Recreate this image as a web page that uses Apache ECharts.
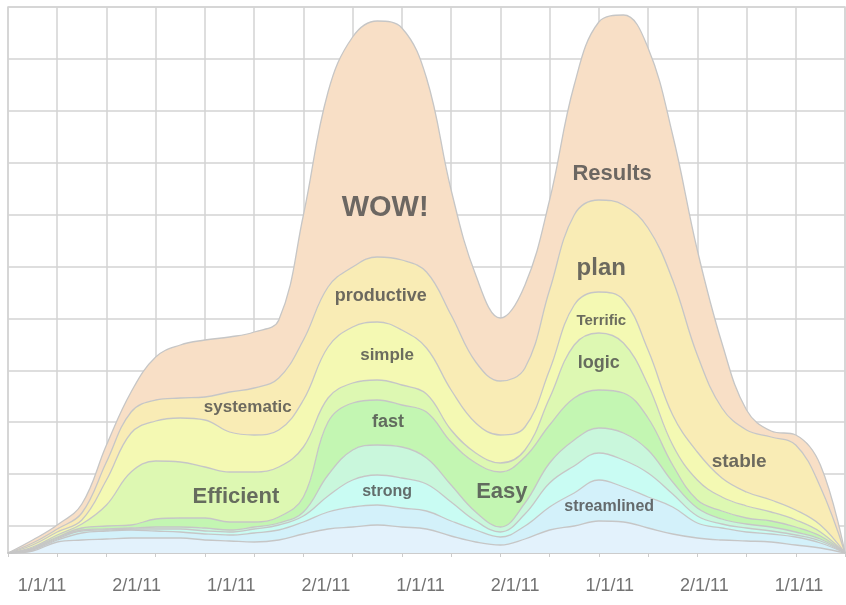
<!DOCTYPE html>
<html>
<head>
<meta charset="utf-8">
<script src="https://cdn.jsdelivr.net/npm/echarts@6/dist/echarts.min.js"></script>
<style>
  html, body { margin: 0; padding: 0; background: #ffffff; }
  #chart { width: 846px; height: 605px; }
</style>
</head>
<body>
<div id="chart"></div>
<script>
// sample positions along the x axis (grid columns)
var xs = ['0', '0.5', '1', '1.5', '2', '2.5', '3', '3.5', '4', '4.5', '5', '5.5', '6', '6.5', '7', '7.5', '8', '8.5',
  '9', '9.5', '10', '10.5', '11', '11.5', '12', '12.5', '13', '13.5', '14', '14.5', '15', '15.5', '16', '16.5', '17'];

// layer thickness, bottom layer first
var layer1 = [0, 2, 11, 13, 14, 15, 15, 15, 13, 12, 11, 13, 19, 24, 26, 28, 26, 24, 17, 11, 8, 14, 23, 27, 32, 31, 25, 19, 15, 13, 12, 11, 8, 5, 0];
var layer2 = [0, 1, 2, 7, 8, 8, 7, 6, 6, 6, 9, 10, 12, 17, 20, 20, 19, 18, 15, 12, 8, 13, 23, 33, 41, 35, 31, 27, 15, 12, 9, 8, 8, 5, 0];
var layer3 = [0, 1, 1, 2, 1, 1, 2, 3, 3, 3, 4, 5, 6, 16, 27, 30, 30, 27, 19, 9, 5, 12, 24, 27, 27, 27, 24, 13, 7, 4, 4, 3, 2, 2, 0];
var layer4 = [0, 0, 1, 1, 1, 1, 2, 2, 3, 2, 2, 2, 4, 21, 30, 30, 31, 26, 17, 9, 5, 11, 20, 26, 25, 27, 23, 12, 8, 5, 4, 4, 3, 2, 0];
var layer5 = [0, 1, 1, 2, 3, 3, 8, 9, 10, 8, 5, 6, 15, 53, 47, 45, 42, 46, 43, 49, 55, 46, 38, 42, 38, 40, 32, 17, 8, 8, 6, 6, 5, 3, 0];
var layer6 = [0, 1, 2, 4, 21, 53, 58, 56, 51, 50, 50, 50, 50, 24, 20, 20, 20, 18, 12, 10, 9, 7, 27, 53, 57, 50, 33, 20, 20, 14, 12, 9, 7, 4, 0];
var layer7 = [0, 2, 3, 4, 25, 39, 40, 44, 47, 40, 37, 37, 47, 51, 56, 58, 55, 46, 40, 30, 28, 23, 28, 40, 41, 43, 35, 30, 28, 19, 14, 12, 10, 7, 0];
var layer8 = [0, 2, 3, 7, 18, 21, 21, 20, 23, 40, 47, 52, 60, 60, 60, 65, 70, 76, 75, 61, 54, 59, 80, 90, 92, 95, 122, 135, 97, 70, 62, 63, 65, 38, 0];
var layer9 = [0, 3, 4, 9, 17, 20, 43, 53, 57, 55, 56, 58, 125, 195, 230, 236, 232, 194, 125, 87, 63, 83, 90, 130, 178, 190, 180, 145, 105, 65, 20, 6, 10, 22, 0];

var layers = [layer1, layer2, layer3, layer4, layer5, layer6, layer7, layer8, layer9];
var layerColors = ['#e3f2fc', '#d3f1fa', '#c9fcf3', '#c9f7dc', '#c3f6b2', '#ddf8b2', '#f4f9b3', '#f9ecb5', '#f8dfc6'];

// x axis tick labels
var tickLabels = ['1/1/11', '2/1/11', '1/1/11', '2/1/11', '1/1/11', '2/1/11', '1/1/11', '2/1/11', '1/1/11'];

// words written inside the areas
var words = ['WOW!', 'Results', 'plan', 'productive', 'simple', 'Terrific', 'logic', 'fast',
  'strong', 'Easy', 'Efficient', 'systematic', 'streamlined', 'stable'];
var wordX = [7.66, 12.27, 12.05, 7.57, 7.70, 12.05, 12.0, 7.72, 7.70, 10.03, 4.63, 4.87, 12.21, 14.85];
var wordY = [345, 379, 285, 257, 198, 232, 190, 131, 61, 61, 56, 146, 46, 91];
var wordSize = [29, 22, 24, 18, 17, 15, 18, 18, 16, 22, 22, 17, 16, 19];

var myChart = echarts.init(document.getElementById('chart'));

var series = [];
for (var i = 0; i < layers.length; i++) {
  series.push({
    name: 'layer' + (i + 1),
    type: 'line',
    xAxisIndex: 2,
    yAxisIndex: 0,
    stack: 'all',
    smooth: 0.4,
    symbol: 'none',
    silent: true,
    lineStyle: { color: '#c6c6c6', width: 1.3 },
    areaStyle: { color: layerColors[i], opacity: 1 },
    data: layers[i]
  });
}

// labels
var wordData = [];
for (var k = 0; k < words.length; k++) {
  wordData.push({
    name: words[k],
    value: [wordX[k], wordY[k]],
    label: { fontSize: wordSize[k] }
  });
}
series.push({
  type: 'scatter',
  xAxisIndex: 0,
  yAxisIndex: 0,
  symbolSize: 0,
  silent: true,
  z: 10,
  label: {
    show: true,
    position: 'inside',
    formatter: '{b}',
    color: '#484848',
    fontWeight: 'bold',
    fontFamily: 'Liberation Sans, Arial, sans-serif'
  },
  data: wordData
});

var gridColor = '#d3d3d3';

var option = {
  backgroundColor: '#ffffff',
  animation: false,
  grid: [
    // plot area
    { left: 8, right: 1, top: 7, bottom: 52, show: true, borderColor: gridColor, borderWidth: 1.5 },
    // tick label strip
    { left: 42, right: 47, top: 7, bottom: 52 }
  ],
  xAxis: [
    {
      // grid columns, ticks and base line
      type: 'value',
      gridIndex: 0,
      min: 0,
      max: 17,
      interval: 1,
      axisLabel: { show: false },
      axisLine: { show: true, lineStyle: { color: '#cccccc', width: 2 } },
      axisTick: { show: true, length: 4, lineStyle: { color: '#cccccc' } },
      splitLine: { show: true, lineStyle: { color: gridColor, width: 1.5 } }
    },
    {
      type: 'category',
      gridIndex: 1,
      boundaryGap: false,
      data: tickLabels,
      axisLine: { show: false },
      axisTick: { show: false },
      splitLine: { show: false },
      axisLabel: {
        interval: 0,
        margin: 24,
        color: '#737373',
        fontSize: 18,
        fontFamily: 'Liberation Sans, Arial, sans-serif'
      }
    },
    {
      // sample positions for the stacked layers
      type: 'category',
      gridIndex: 0,
      boundaryGap: false,
      data: xs,
      show: false
    }
  ],
  yAxis: [
    {
      type: 'value',
      gridIndex: 0,
      min: 0,
      max: 546,
      axisLabel: { show: false },
      axisLine: { show: false },
      axisTick: { show: false },
      splitLine: { show: false }
    },
    {
      // horizontal grid lines counted from the top
      type: 'value',
      gridIndex: 0,
      inverse: true,
      min: 0,
      max: 10.52,
      interval: 1,
      axisLabel: { show: false },
      axisLine: { show: false },
      axisTick: { show: false },
      splitLine: { show: true, lineStyle: { color: gridColor, width: 1.5 } }
    },
    { type: 'value', gridIndex: 1, show: false }
  ],
  series: series
};

myChart.setOption(option);
</script>
</body>
</html>
